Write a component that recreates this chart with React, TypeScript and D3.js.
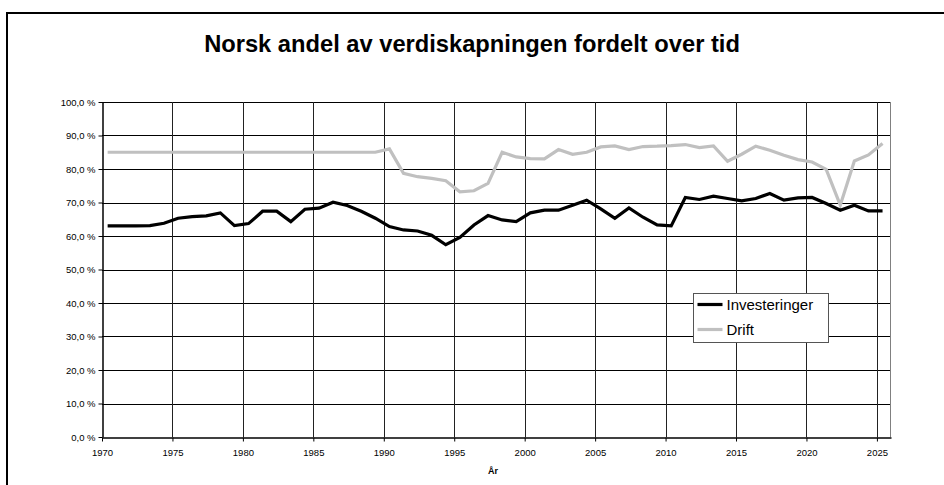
import React, { useEffect, useRef } from "react";
import * as d3 from "d3";

const years = d3.range(1970, 2026);

// Investeringer, % norsk andel
const investeringer = [
	63.0, 63.0, 63.0, 63.1, 63.8, 65.3, 65.8, 66.0, 66.9, 63.1,
	63.7, 67.4, 67.4, 64.3, 68.0, 68.3, 70.1, 69.1, 67.4, 65.3,
	62.8, 61.8, 61.5, 60.2, 57.4, 59.6, 63.3, 66.1, 64.8, 64.3,
	66.9, 67.7, 67.7, 69.2, 70.7, 68.1, 65.3, 68.4, 65.6, 63.3,
	63.0, 71.5, 70.9, 71.9, 71.2, 70.5, 71.2, 72.7, 70.7, 71.4,
	71.5, 69.7, 67.7, 69.2, 67.5, 67.5,
];

// Drift, % norsk andel
const drift = [
	85.0, 85.0, 85.0, 85.0, 85.0, 85.0, 85.0, 85.0, 85.0, 85.0,
	85.0, 85.0, 85.0, 85.0, 85.0, 85.0, 85.0, 85.0, 85.0, 85.0,
	86.0, 78.7, 77.7, 77.2, 76.5, 73.2, 73.5, 75.7, 85.0, 83.6,
	83.1, 83.0, 85.8, 84.4, 85.0, 86.6, 86.9, 85.8, 86.7, 86.8,
	87.0, 87.3, 86.4, 86.9, 82.3, 84.4, 86.8, 85.6, 84.1, 82.8,
	82.1, 79.9, 69.2, 82.4, 84.2, 87.6,
];

const yTicks = d3.range(0, 101, 10);
const xTicks = d3.range(1970, 2026, 5);

const seriesNames = ["Investeringer", "Drift"];
const seriesColors = ["#000000", "#c0c0c0"];

const W = 944, H = 485;
const font = "'Liberation Sans', Arial, sans-serif";

export default function App() {
	const ref = useRef<SVGSVGElement>(null);

	useEffect(() => {
		const svg = d3.select(ref.current);
		svg.selectAll("*").remove();

		const margin = { top: 102, right: 53, bottom: 48, left: 102 };
		const width = W - margin.left - margin.right;
		const height = H - margin.top - margin.bottom;

		// outer frame
		svg.append("rect")
			.attr("x", 7).attr("y", 13)
			.attr("width", 1000).attr("height", 600)
			.attr("fill", "#fff").attr("stroke", "#000").attr("stroke-width", 2);

		svg.append("text")
			.attr("x", 472).attr("y", 52)
			.attr("text-anchor", "middle")
			.attr("font-family", font).attr("font-weight", "bold").attr("font-size", 23.7)
			.text("Norsk andel av verdiskapningen fordelt over tid");

		const x = d3.scaleLinear().domain([1970, 2026]).range([0, width]);
		const y = d3.scaleLinear().domain([0, 100]).range([height, 0]);

		const g = svg.append("g")
			.attr("transform", "translate(" + margin.left + "," + margin.top + ")");

		// gridlines
		g.append("g").selectAll("line").data(yTicks.slice(1)).enter().append("line")
			.attr("x1", 0).attr("x2", width)
			.attr("y1", d => Math.round(y(d)) + 0.5).attr("y2", d => Math.round(y(d)) + 0.5)
			.attr("stroke", "#000").attr("stroke-width", 1);

		g.append("g").selectAll("line").data(xTicks.slice(1)).enter().append("line")
			.attr("y1", 0).attr("y2", height)
			.attr("x1", d => Math.round(x(d)) + 0.5).attr("x2", d => Math.round(x(d)) + 0.5)
			.attr("stroke", "#222").attr("stroke-width", 1);

		g.append("line")
			.attr("x1", width - 0.5).attr("x2", width - 0.5)
			.attr("y1", 0).attr("y2", height)
			.attr("stroke", "#808080");

		// axes
		const yAxis = g.append("g")
			.attr("transform", "translate(0.5,0)")
			.call(d3.axisLeft(y).tickValues(yTicks).tickSize(4).tickSizeOuter(0)
				.tickFormat(d => d3.format(".1f")(d as number).replace(".", ",") + " %"));
		const xAxis = g.append("g")
			.attr("transform", "translate(0," + (Math.round(height) + 0.5) + ")")
			.call(d3.axisBottom(x).tickValues(xTicks).tickSize(4).tickSizeOuter(0).tickFormat(d3.format("d")));

		[yAxis, xAxis].forEach(a => {
			a.select(".domain").attr("stroke", "#000").attr("stroke-width", 1.5);
			a.selectAll("line").attr("stroke", "#000");
			a.selectAll("text").attr("font-family", font).attr("font-size", 9.5).attr("fill", "#000");
		});
		yAxis.selectAll("text").attr("x", -7);
		xAxis.selectAll("text").attr("y", 12);

		svg.append("text")
			.attr("x", 493).attr("y", 474)
			.attr("text-anchor", "middle")
			.attr("font-family", font).attr("font-weight", "bold").attr("font-size", 9)
			.text("År");

		// lines; points sit a bit into each year
		const line = d3.line<number>()
			.x((d, i) => x(years[i] + 0.4))
			.y(d => y(d));

		[drift, investeringer].forEach((s, k) => {
			g.append("path")
				.datum(s)
				.attr("fill", "none")
				.attr("stroke", k === 0 ? seriesColors[1] : seriesColors[0])
				.attr("stroke-width", 3.2)
				.attr("stroke-linejoin", "miter")
				.attr("d", line);
		});

		// legend
		const lg = svg.append("g").attr("transform", "translate(693.5,293.5)");
		lg.append("rect")
			.attr("width", 135).attr("height", 49)
			.attr("fill", "#fff").attr("stroke", "#555");
		seriesNames.forEach((n, i) => {
			lg.append("line")
				.attr("x1", 4).attr("x2", 29)
				.attr("y1", 11 + i * 25).attr("y2", 11 + i * 25)
				.attr("stroke", seriesColors[i]).attr("stroke-width", 3.2);
			lg.append("text")
				.attr("x", 33).attr("y", 16.5 + i * 25)
				.attr("font-family", font).attr("font-size", 15)
				.text(n);
		});
	}, []);

	return (
		<svg ref={ref} width={W} height={H}
			style={{ position: "absolute", left: 0, top: 0, background: "#fff" }} />
	);
}
